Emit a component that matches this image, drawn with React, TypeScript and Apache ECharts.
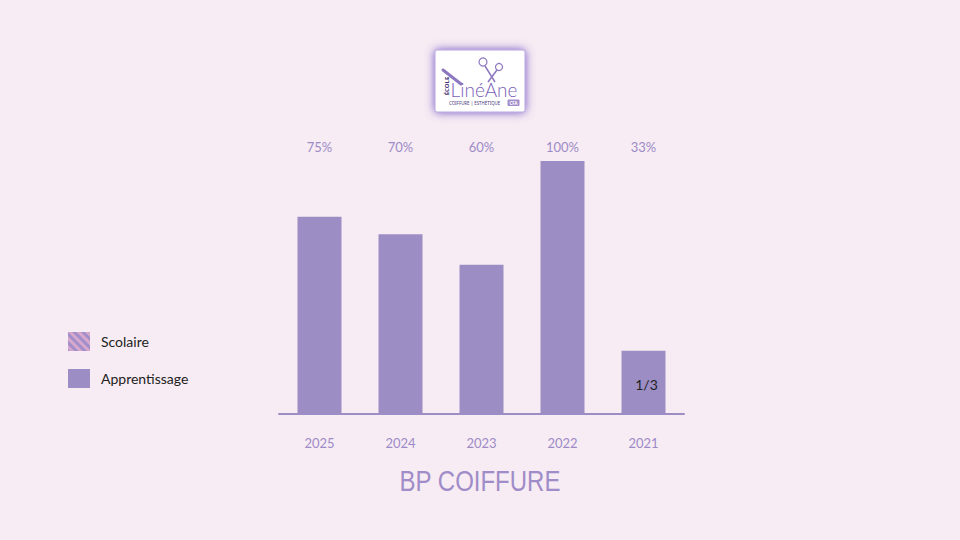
import React, { useEffect, useRef } from "react";
import * as echarts from "echarts";

const years = ["2025", "2024", "2023", "2022", "2021"];
const rateLabels = ["75%", "70%", "60%", "100%", "33%"];
const apprentissageValues = [78, 71, 59, 100, 25];
const scolaireValues: (number | null)[] = [null, null, null, null, null];
const innerLabels = ["", "", "", "", "1/3"];
const legendNames = ["Scolaire", "Apprentissage"];
const chartTitle = "BP COIFFURE";

const BG = "#F7ECF3";
const BAR = "#9C8DC4";
const LABEL = "#9D8BC7";

export default function App() {
  const ref = useRef<HTMLDivElement>(null);
  useEffect(() => {
    if (!ref.current) return;
    const chart = echarts.init(ref.current, null, { renderer: "svg" });
    chart.setOption({
      animation: false,
      backgroundColor: BG,
      grid: { left: 279, right: 276, top: 161, bottom: 126 },
      legend: {
        orient: "vertical",
        left: 68,
        top: 332,
        padding: 0,
        icon: "rect",
        itemWidth: 22,
        itemHeight: 19,
        itemGap: 18,
        data: legendNames,
        textStyle: { color: "#222", fontSize: 14, fontFamily: "Lato", padding: [0, 0, 0, 6] },
      },
      xAxis: [
        {
          type: "category",
          data: years,
          position: "bottom",
          axisLine: { lineStyle: { color: BAR, width: 2 } },
          axisTick: { show: false },
          axisLabel: { color: LABEL, fontSize: 13, fontFamily: "Lato", margin: 22 },
        },
        {
          type: "category",
          data: rateLabels,
          position: "top",
          axisLine: { show: false },
          axisTick: { show: false },
          axisLabel: { color: LABEL, fontSize: 13, fontFamily: "Lato", margin: 8 },
        },
      ],
      yAxis: {
        type: "value",
        min: 0,
        max: 100,
        show: false,
        splitLine: { show: false },
      },
      series: [
        {
          name: legendNames[0],
          type: "bar",
          stack: "total",
          barWidth: 44,
          data: scolaireValues,
          itemStyle: {
            color: "#D7A8CB",
            decal: {
              symbol: "rect",
              symbolSize: 1,
              color: "#A28ECB",
              dashArrayX: [1, 0],
              dashArrayY: [3, 3],
              rotation: Math.PI / 4,
            },
          },
        },
        {
          name: legendNames[1],
          type: "bar",
          stack: "total",
          barWidth: 44,
          itemStyle: { color: BAR },
          data: apprentissageValues.map((v, i) => ({
            value: v,
            label: {
              show: innerLabels[i] !== "",
              formatter: innerLabels[i],
              position: "insideBottom",
              distance: 23,
              offset: [3, 0],
              color: "#222",
              fontSize: 14,
              fontFamily: "Lato",
            },
          })),
        },
      ],
      graphic: [
        {
          type: "text",
          x: 480,
          y: 481,
          scaleX: 0.8,
          style: {
            text: chartTitle,
            fill: "#A08CC8",
            font: "30px 'Liberation Sans', Arial, sans-serif",
            textAlign: "center",
            textVerticalAlign: "middle",
          },
        },
        {
          type: "group",
          children: [
            {
              type: "rect",
              shape: { x: 435, y: 50, width: 90, height: 62, r: 2 },
              style: {
                fill: "#ffffff",
                stroke: "#B9A6E0",
                lineWidth: 1,
                shadowBlur: 10,
                shadowColor: "rgba(112,80,195,0.95)",
              },
            },
            {
              type: "line",
              shape: { x1: 443, y1: 70, x2: 461, y2: 84 },
              style: { stroke: "#8D78C0", lineWidth: 3, lineCap: "round" },
            },
            {
              type: "circle",
              shape: { cx: 483, cy: 62, r: 4 },
              style: { fill: "none", stroke: "#8D78C0", lineWidth: 1.2 },
            },
            {
              type: "circle",
              shape: { cx: 499, cy: 67, r: 3.5 },
              style: { fill: "none", stroke: "#8D78C0", lineWidth: 1.2 },
            },
            {
              type: "line",
              shape: { x1: 485, y1: 66, x2: 495, y2: 82 },
              style: { stroke: "#8D78C0", lineWidth: 1.5 },
            },
            {
              type: "line",
              shape: { x1: 497, y1: 70, x2: 488, y2: 82 },
              style: { stroke: "#8D78C0", lineWidth: 1.5 },
            },
            {
              type: "text",
              x: 447,
              y: 86,
              rotation: Math.PI / 2,
              style: {
                text: "ÉCOLE",
                fill: "#4A3A7A",
                font: "bold 6px 'Noto Sans', sans-serif",
                textAlign: "center",
                textVerticalAlign: "middle",
              },
            },
            {
              type: "text",
              x: 484,
              y: 89.5,
              style: {
                text: "LinéAne",
                fill: "#7A5FB8",
                font: "300 19px Lato, sans-serif",
                textAlign: "center",
                textVerticalAlign: "middle",
              },
            },
            {
              type: "text",
              x: 449,
              y: 102.5,
              style: {
                text: "COIFFURE | ESTHÉTIQUE",
                fill: "#4A3A7A",
                font: "4.4px 'Noto Sans', sans-serif",
                textVerticalAlign: "middle",
              },
            },
            {
              type: "rect",
              shape: { x: 507.5, y: 99.5, width: 12, height: 6.5, r: 1 },
              style: { fill: "#A28ECB" },
            },
            {
              type: "text",
              x: 513.5,
              y: 102.75,
              style: {
                text: "CFA",
                fill: "#ffffff",
                font: "bold 4.4px 'Noto Sans', sans-serif",
                textAlign: "center",
                textVerticalAlign: "middle",
              },
            },
          ],
        },
      ],
    });
    return () => chart.dispose();
  }, []);
  return <div ref={ref} style={{ width: 960, height: 540, position: "fixed", left: 0, top: 0 }} />;
}
